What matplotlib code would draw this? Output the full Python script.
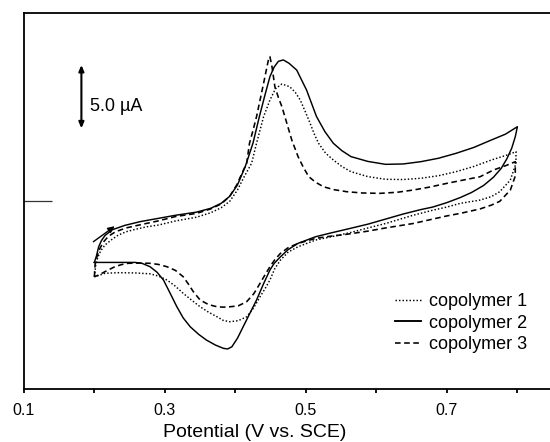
import matplotlib
matplotlib.use("Agg")
import matplotlib.pyplot as plt
from matplotlib.lines import Line2D

plt.rcParams['font.family'] = ['Liberation Sans', 'DejaVu Sans']

# ---- data (Potential in V vs SCE, current in uA) ----
v_cp2 = [0.200, 0.203, 0.206, 0.210, 0.215, 0.225, 0.243, 0.265, 0.290, 0.315, 0.345, 0.365, 0.380,
         0.392, 0.403, 0.414, 0.425, 0.434, 0.442, 0.449, 0.455, 0.461, 0.468, 0.476, 0.487, 0.501,
         0.515, 0.527, 0.539, 0.551, 0.564, 0.588, 0.613, 0.638, 0.663, 0.688, 0.713, 0.738, 0.763,
         0.783, 0.800,
         0.797, 0.792, 0.785, 0.777, 0.766, 0.752, 0.735, 0.719, 0.700, 0.680, 0.663, 0.638, 0.613,
         0.588, 0.558, 0.535, 0.514, 0.489, 0.475, 0.464, 0.455, 0.449, 0.440, 0.430, 0.420, 0.411,
         0.403, 0.395, 0.389, 0.383, 0.372, 0.359, 0.348, 0.336, 0.326, 0.317, 0.307, 0.298, 0.289,
         0.279, 0.268, 0.258, 0.230, 0.200]
i_cp2 = [-4.82, -4.30, -3.60, -3.10, -2.70, -2.25, -1.90, -1.60, -1.35, -1.10, -0.85, -0.55, -0.15,
         0.40, 1.30, 2.74, 4.60, 6.68, 8.40, 9.84, 10.60, 11.05, 11.16, 10.90, 10.36, 8.78,
         6.70, 5.50, 4.58, 4.00, 3.53, 3.15, 2.92, 2.95, 3.13, 3.40, 3.79, 4.25, 4.84,
         5.30, 5.89,
         5.10, 4.20, 3.35, 2.60, 1.90, 1.25, 0.70, 0.30, -0.10, -0.45, -0.65, -1.00, -1.40,
         -1.80, -2.20, -2.50, -2.79, -3.31, -3.80, -4.37, -4.90, -5.42, -6.50, -7.79, -8.90, -9.90,
         -10.80, -11.48, -11.65, -11.60, -11.35, -10.95, -10.50, -9.90, -9.20, -8.32, -7.20, -6.21, -5.60,
         -5.16, -4.90, -4.82, -4.82, -4.82]

v_cp1 = [0.200, 0.202, 0.205, 0.209, 0.215, 0.225, 0.234, 0.245, 0.258, 0.275, 0.291, 0.315, 0.345,
         0.365, 0.380, 0.392, 0.403, 0.413, 0.423, 0.430, 0.440, 0.449, 0.457, 0.466, 0.477, 0.485,
         0.492, 0.499, 0.506, 0.512, 0.518, 0.528, 0.539, 0.551, 0.564, 0.588, 0.613, 0.638, 0.663,
         0.688, 0.713, 0.738, 0.763, 0.785, 0.798,
         0.798, 0.790, 0.775, 0.763, 0.747, 0.719, 0.700, 0.680, 0.652, 0.613, 0.588, 0.564, 0.540,
         0.514, 0.489, 0.475, 0.464, 0.456, 0.449, 0.442, 0.435, 0.426, 0.416, 0.404, 0.392, 0.383,
         0.374, 0.362, 0.350, 0.338, 0.326, 0.315, 0.303, 0.291, 0.279, 0.258, 0.234, 0.215, 0.206,
         0.200]
i_cp1 = [-5.95, -5.00, -4.40, -3.90, -3.45, -3.00, -2.66, -2.40, -2.21, -2.00, -1.87, -1.55, -1.25,
         -0.90, -0.50, 0.00, 0.90, 2.00, 3.00, 4.58, 6.68, 7.99, 8.90, 9.26, 9.05, 8.60,
         8.00, 7.10, 6.16, 5.30, 4.58, 3.80, 3.26, 2.75, 2.34, 1.95, 1.74, 1.72, 1.82,
         2.02, 2.34, 2.75, 3.26, 3.65, 3.92,
         3.00, 1.68, 0.76, 0.37, 0.10, -0.16, -0.45, -0.70, -1.10, -1.75, -2.10, -2.45, -2.75,
         -3.05, -3.58, -4.00, -4.63, -5.30, -6.21, -6.90, -7.53, -8.40, -9.11, -9.42, -9.50, -9.40,
         -9.11, -8.75, -8.32, -7.80, -7.26, -6.70, -6.21, -5.90, -5.72, -5.65, -5.63, -5.68, -5.85,
         -5.95]

v_cp3 = [0.200, 0.201, 0.204, 0.208, 0.213, 0.220, 0.230, 0.245, 0.265, 0.290, 0.315, 0.345, 0.365,
         0.380, 0.392, 0.402, 0.410, 0.416, 0.420, 0.425, 0.430, 0.435, 0.440, 0.444, 0.447, 0.449,
         0.452, 0.456, 0.461, 0.466, 0.473, 0.480, 0.489, 0.496, 0.504, 0.514, 0.525, 0.540, 0.558,
         0.580, 0.605, 0.630, 0.652, 0.675, 0.700, 0.725, 0.747, 0.766, 0.785, 0.797,
         0.797, 0.790, 0.775, 0.763, 0.747, 0.719, 0.700, 0.680, 0.652, 0.613, 0.588, 0.558, 0.535,
         0.514, 0.489, 0.475, 0.464, 0.456, 0.449, 0.442, 0.435, 0.426, 0.416, 0.404, 0.392, 0.383,
         0.374, 0.362, 0.350, 0.340, 0.333, 0.326, 0.315, 0.303, 0.291, 0.279, 0.265, 0.248, 0.238,
         0.229, 0.215, 0.206, 0.200]
i_cp3 = [-5.95, -5.00, -4.30, -3.70, -3.20, -2.75, -2.40, -2.10, -1.85, -1.55, -1.20, -0.95, -0.60,
         -0.20, 0.40, 1.30, 2.30, 3.00, 4.58, 5.60, 6.68, 8.00, 9.31, 10.40, 11.20, 11.42,
         10.60, 9.05, 8.20, 7.47, 6.16, 4.84, 3.52, 2.73, 1.95, 1.50, 1.15, 0.92, 0.76,
         0.66, 0.63, 0.72, 0.89, 1.12, 1.42, 1.70, 1.94, 2.47, 2.85, 3.13,
         2.00, 0.89, 0.00, -0.30, -0.60, -0.95, -1.15, -1.40, -1.75, -2.10, -2.35, -2.60, -2.75,
         -2.92, -3.32, -3.65, -4.10, -4.60, -5.16, -5.80, -6.47, -7.30, -7.92, -8.25, -8.32, -8.35,
         -8.32, -8.15, -7.79, -7.10, -6.50, -5.95, -5.45, -5.16, -4.98, -4.89, -4.87, -4.89, -5.00,
         -5.16, -5.55, -5.82, -5.95]

labels = ["copolymer 1", "copolymer 2", "copolymer 3"]
xticks_major = [0.1, 0.3, 0.5, 0.7]
xticks_minor = [0.2, 0.4, 0.6, 0.8]

# ---- figure ----
fig = plt.figure(figsize=(5.5, 4.42), dpi=100)
ax = fig.add_axes([0.0434, 0.1199, 0.9614, 0.850])
ax.set_xlim(0.1, 0.85)
ax.set_ylim(-14.81, 14.84)

lw = 1.05
ax.plot(v_cp1, i_cp1, color='black', lw=lw, linestyle=(0, (1.0, 1.4)))
ax.plot(v_cp2, i_cp2, color='black', lw=lw, linestyle='-')
ax.plot(v_cp3, i_cp3, color='black', lw=lw * 1.1, linestyle=(0, (3.5, 2.2)))

for side in ['left', 'bottom', 'top']:
    ax.spines[side].set_linewidth(1.3)
ax.spines['right'].set_visible(False)

ax.set_xticks(xticks_major)
ax.set_xticklabels([f"{t:.1f}" for t in xticks_major])
ax.set_xticks(xticks_minor, minor=True)
ax.tick_params(axis='x', which='both', direction='out', length=3.2, width=1.3,
               pad=7, labelsize=11.5)
ax.set_yticks([0])
ax.set_yticklabels([])
ax.tick_params(axis='y', which='major', direction='in', length=20, width=0.9,
               color='#333333')
ax.set_xlabel("Potential (V vs. SCE)", fontsize=14)
ax.xaxis.set_label_coords(0.437, -0.093)

# scale bar
ax.annotate('', xy=(0.1816, 5.76), xytext=(0.1816, 10.76),
            arrowprops=dict(arrowstyle='<|-|>,head_length=0.35,head_width=0.15',
                            color='black', lw=1.5, shrinkA=0, shrinkB=0))
ax.text(0.1945, 7.52, "5.0 \u00b5A", fontsize=13, va='center', ha='left')

# scan direction arrow
ax.annotate('', xy=(0.229, -1.96), xytext=(0.1985, -3.19),
            arrowprops=dict(arrowstyle='-|>,head_length=0.4,head_width=0.18',
                            color='black', lw=1.0, shrinkA=0, shrinkB=0))

handles = [Line2D([], [], color='black', lw=lw, linestyle=(0, (1.0, 1.4))),
           Line2D([], [], color='black', lw=lw * 1.3, linestyle='-'),
           Line2D([], [], color='black', lw=lw * 1.1, linestyle=(0, (3.5, 2.2)))]
ax.legend(handles, labels, loc='center left', bbox_to_anchor=(0.718, 0.269),
          bbox_transform=fig.transFigure, frameon=False, fontsize=13,
          handlelength=1.45, handletextpad=0.45, labelspacing=0.25, borderpad=0,
          borderaxespad=0)

fig.savefig("out.png", dpi=100)
